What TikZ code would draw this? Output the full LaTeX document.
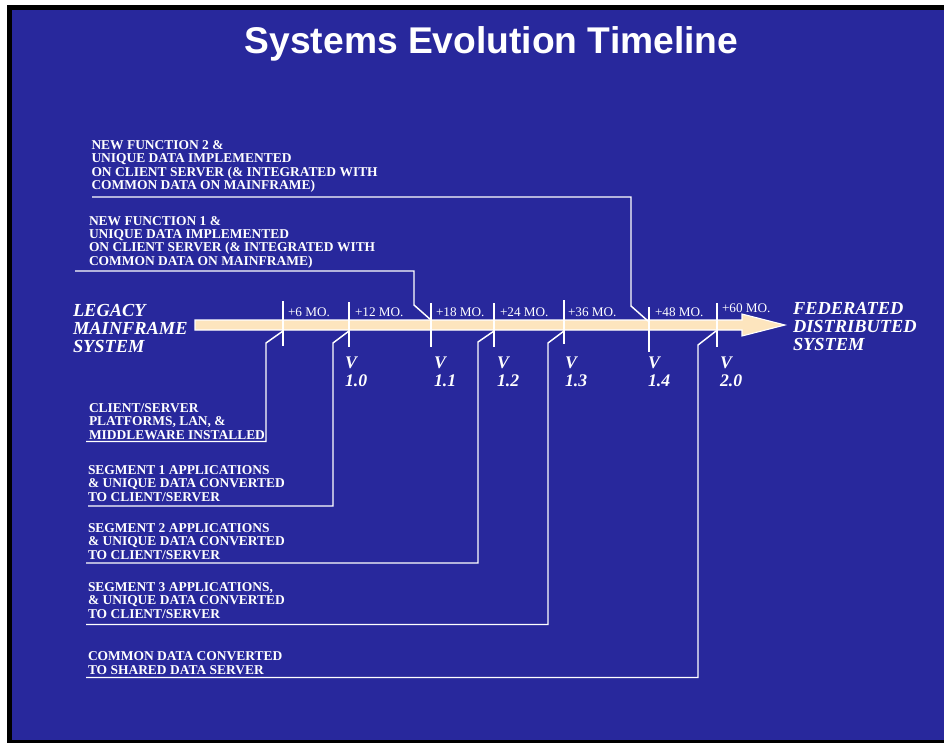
\documentclass[tikz,border=0pt]{standalone}
\usepackage{fontspec}
\setmainfont{Liberation Serif}
\newfontfamily\titlefont{Liberation Sans}
\begin{document}
\begin{tikzpicture}[x=0.75pt,y=-0.75pt,
  txt/.style={anchor=base west,inner sep=0pt,outer sep=0pt,text=white,align=left},
  note/.style={txt,font=\fontsize{10.1pt}{10pt}\selectfont\bfseries},
  month/.style={txt,font=\fontsize{9.9pt}{10pt}\selectfont},
  big/.style={txt,font=\fontsize{13.8pt}{13.5pt}\selectfont\bfseries\itshape},
  ver/.style={txt,font=\fontsize{13.3pt}{13.9pt}\selectfont\bfseries\itshape},
  tick/.style={draw=white,line width=1.5pt},
  link/.style={draw=white,line width=1.1pt}]
\definecolor{slide}{RGB}{40,40,156}
\definecolor{cream}{RGB}{253,229,190}
\useasboundingbox (0,0) rectangle (944,743);
% slide frame and background
\fill[white] (0,0) rectangle (944,743);
\fill[black] (7,5) rectangle (944,743);
\fill[slide] (12,10) rectangle (944,740);
% title
\node[anchor=base,inner sep=0pt,text=white,font=\titlefont\fontsize{27.9pt}{30pt}\selectfont\bfseries]
  (title) at (491.5,53) {Systems Evolution Timeline};
% main timeline arrow
\path[fill=cream,draw=white,line width=0.8pt]
  (195,320) -- (742,320) -- (742,314) -- (785,325) -- (742,336) -- (742,330) -- (195,330) -- cycle;
% end labels (anchored at the baseline of their last line)
\node[big] (legacy) at (73,352.7) {LEGACY\\MAINFRAME\\SYSTEM};
\node[big] (fed) at (793,350.7) {FEDERATED\\DISTRIBUTED\\SYSTEM};
% month ticks
\coordinate (t6a) at (283,301);  \coordinate (t6b) at (283,346);
\coordinate (t12a) at (349,302); \coordinate (t12b) at (349,347);
\coordinate (t18a) at (431,303); \coordinate (t18b) at (431,347);
\coordinate (t24a) at (494,303); \coordinate (t24b) at (494,347);
\coordinate (t36a) at (564,300); \coordinate (t36b) at (564,344);
\coordinate (t48a) at (649,307); \coordinate (t48b) at (649,352);
\coordinate (t60a) at (717,303); \coordinate (t60b) at (717,347);
\foreach \t in {6,12,18,24,36,48,60} \draw[tick] (t\t a) -- (t\t b);
% month labels
\node[month] (m6) at (288,316) {+6 MO.};
\node[month] (m12) at (355,316) {+12 MO.};
\node[month] (m18) at (436,316) {+18 MO.};
\node[month] (m24) at (500,316) {+24 MO.};
\node[month] (m36) at (568,316) {+36 MO.};
\node[month] (m48) at (655,316) {+48 MO.};
\node[month] (m60) at (722,312) {+60 MO.};
% version labels
\node[ver] (v10) at (345,386.7) {V\\1.0};
\node[ver] (v11) at (434,386.7) {V\\1.1};
\node[ver] (v12) at (497,386.7) {V\\1.2};
\node[ver] (v13) at (565,386.7) {V\\1.3};
\node[ver] (v14) at (648,386.7) {V\\1.4};
\node[ver] (v20) at (720,386.7) {V\\2.0};
% milestones above the timeline
\node[note] (nf2) at (91.5,189.5) {NEW FUNCTION 2 \&\\UNIQUE DATA IMPLEMENTED\\ON CLIENT SERVER (\& INTEGRATED WITH\\COMMON DATA ON MAINFRAME)};
\node[note] (nf1) at (89,265) {NEW FUNCTION 1 \&\\UNIQUE DATA IMPLEMENTED\\ON CLIENT SERVER (\& INTEGRATED WITH\\COMMON DATA ON MAINFRAME)};
% milestones below the timeline
\node[note] (cs) at (89,439) {CLIENT/SERVER\\PLATFORMS, LAN, \&\\MIDDLEWARE INSTALLED};
\node[note] (s1) at (88,501) {SEGMENT 1 APPLICATIONS\\\& UNIQUE DATA CONVERTED\\TO CLIENT/SERVER};
\node[note] (s2) at (88,559) {SEGMENT 2 APPLICATIONS\\\& UNIQUE DATA CONVERTED\\TO CLIENT/SERVER};
\node[note] (s3) at (88,618) {SEGMENT 3 APPLICATIONS,\\\& UNIQUE DATA CONVERTED\\TO CLIENT/SERVER};
\node[note] (cd) at (88,674) {COMMON DATA CONVERTED\\TO SHARED DATA SERVER};
% leader lines from each milestone to its tick
\coordinate (nf2s) at (92,197);  \coordinate (nf2e) at (648,321);
\coordinate (nf1s) at (75,271);  \coordinate (nf1e) at (431,320);
\coordinate (css) at (86,441.5); \coordinate (cse) at (283,331);
\coordinate (s1s) at (88,506);   \coordinate (s1e) at (349,331);
\coordinate (s2s) at (86,563);   \coordinate (s2e) at (494,331);
\coordinate (s3s) at (86,624.5); \coordinate (s3e) at (564,331);
\coordinate (cds) at (86,677.5); \coordinate (cde) at (716,331);
\draw[link] (nf2s) -- (631,197) -- (631,306) -- (nf2e);
\draw[link] (nf1s) -- (414,271) -- (414,305) -- (nf1e);
\draw[link] (css) -- (266,441.5) -- (266,343) -- (cse);
\draw[link] (s1s) -- (333,506) -- (333,343) -- (s1e);
\draw[link] (s2s) -- (478,563) -- (478,342) -- (s2e);
\draw[link] (s3s) -- (548,624.5) -- (548,343) -- (s3e);
\draw[link] (cds) -- (698,677.5) -- (698,345) -- (cde);
\end{tikzpicture}
\end{document}
